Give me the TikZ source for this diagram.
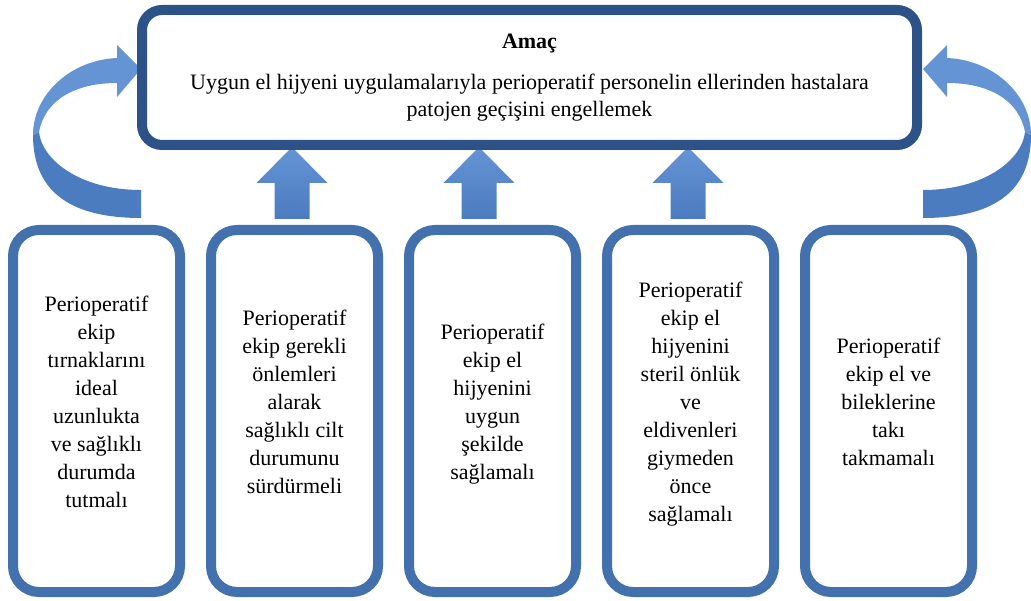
\documentclass[tikz,border=0pt]{standalone}
\usepackage{fontspec}
\setmainfont{Liberation Serif}
\usetikzlibrary{positioning, calc}

\definecolor{goalblue}{RGB}{45,82,135}
\definecolor{boxblue}{RGB}{66,113,174}
\definecolor{arrowblue}{RGB}{76,124,192}
\definecolor{arrowlight}{RGB}{100,148,212}

% empty last line, lifts the text a little
\newcommand{\liftline}{\\[-10pt]\mbox{}}

\begin{document}
\begin{tikzpicture}[x=1pt, y=1pt,
    node distance=21pt,
    goalbox/.style={draw=goalblue,
        line width=10pt,
        rounded corners=20pt,
        fill=white,
        align=center,
        font=\fontsize{22}{27}\selectfont},
    itembox/.style={draw=boxblue,
        line width=10pt,
        rounded corners=26pt,
        fill=white,
        align=center,
        minimum width=167pt,
        minimum height=362pt,
        font=\fontsize{22}{28}\selectfont},
    uparrow/.style={top color=arrowlight, bottom color=arrowblue}]

\useasboundingbox (0,0) rectangle (1031,600);

\node[itembox] (b1) at (96.5,189) {Perioperatif\\ekip\\tırnaklarını\\ideal\\uzunlukta\\ve sağlıklı\\durumda\\tutmalı\liftline};

\node[itembox,
    right=of b1] (b2) {Perioperatif\\ekip gerekli\\önlemleri\\alarak\\sağlıklı cilt\\durumunu\\sürdürmeli\liftline};

\node[itembox,
    right=of b2] (b3) {Perioperatif\\ekip el\\hijyenini\\uygun\\şekilde\\sağlamalı\liftline};

\node[itembox,
    right=of b3] (b4) {Perioperatif\\ekip el\\hijyenini\\steril önlük\\ve\\eldivenleri\\giymeden\\önce\\sağlamalı\liftline};

\node[itembox,
    right=of b4] (b5) {Perioperatif\\ekip el ve\\bileklerine\\takı\\takmamalı\liftline};

% Block arrows
\foreach \b/\dx in {b2/-2.5, b3/-13.5, b4/-2.5}
    \shade[uparrow] ($(\b.north)+(\dx-17.5,6)$) -- ++(0,36) -- ++(-18,0) -- ++(35.5,36)
        -- ++(35.5,-36) -- ++(-18,0) -- ++(0,-36) -- cycle;

% Curved arrows
\foreach \sx/\ox in {1/0, -1/1064} {
    \begin{scope}[xshift=\ox, xscale=\sx]
        \fill[arrowblue] (141,382) .. controls (75,382) and (33,405) .. (33,465)
            -- (39,468) .. controls (42,440) and (80,410) .. (141,410) -- cycle;
        \fill[arrowlight] (33,465) .. controls (33,505) and (70,540) .. (117,542)
            -- (117,555) -- (141,531) -- (117,503) -- (117,517)
            .. controls (75,517) and (45,500) .. (39,468) -- cycle;
    \end{scope}
}

% Goal
\node[goalbox,
    minimum width=775pt,
    minimum height=135pt] (goal) at (529.5,522.5)
    {\textbf{Amaç}\\[14pt]Uygun el hijyeni uygulamalarıyla perioperatif personelin ellerinden hastalara\\patojen geçişini engellemek};

\end{tikzpicture}
\end{document}
